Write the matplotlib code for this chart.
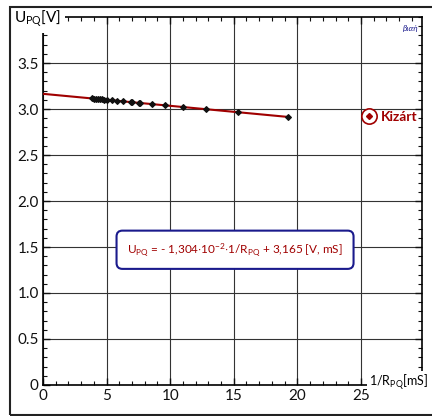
import matplotlib
matplotlib.use('Agg')
from matplotlib import pyplot as plt
from matplotlib.lines import Line2D
from matplotlib.patches import Rectangle
from matplotlib.legend_handler import HandlerTuple
from matplotlib.ticker import MultipleLocator

# measured points (1/R_PQ in mS, U_PQ in V)
inv_r = [3.83, 4.01, 4.17, 4.32, 4.48, 4.64, 4.80, 5.01, 5.42, 5.84, 6.31,
         6.89, 6.97, 7.57, 7.65, 8.54, 9.59, 10.98, 12.81, 15.35, 19.28]
u_pq = [3.115, 3.113, 3.111, 3.109, 3.107, 3.104, 3.102, 3.100, 3.094, 3.089, 3.083,
        3.075, 3.074, 3.066, 3.065, 3.054, 3.040, 3.022, 2.998, 2.965, 2.914]

# fitted line
slope = -1.304e-2
intercept = 3.165
fit_x = [0, 19.28]

x_ticks = [0, 5, 10, 15, 20, 25]
y_ticks = [0, 0.5, 1.0, 1.5, 2.0, 2.5, 3.0, 3.5]
y_tick_labels = ['0', '0.5', '1.0', '1.5', '2.0', '2.5', '3.0', '3.5']

plt.rcParams['font.family'] = ['Lato', 'DejaVu Sans']
plt.rcParams['mathtext.fontset'] = 'custom'
plt.rcParams['mathtext.rm'] = 'Lato'
plt.rcParams['mathtext.it'] = 'Lato:italic'

red = '#a00000'

fig = plt.figure(figsize=(4.32, 4.16), dpi=100)
ax = fig.add_axes([43 / 432, 1 - 385 / 416, (422 - 43) / 432, (385 - 17) / 416])

# outer frame
fig.patches.append(Rectangle((10 / 432, 1 - 415 / 416), 0.99, (415 - 7) / 416,
                             transform=fig.transFigure, fill=False,
                             edgecolor='#222222', linewidth=1.5))

ax.set_xlim(0, 29.8)
ax.set_ylim(0, 4.0)
ax.grid(True, color='#333333', linewidth=0.8)
ax.set_axisbelow(True)

ax.set_xticks(x_ticks)
ax.set_yticks(y_ticks)
ax.set_yticklabels(y_tick_labels)
ax.xaxis.set_minor_locator(MultipleLocator(1))
ax.yaxis.set_minor_locator(MultipleLocator(0.1))
ax.tick_params(which='both', direction='in', top=True, right=True,
               labelsize=11, colors='#111111', pad=3)
ax.tick_params(which='major', length=5, width=1)
ax.tick_params(which='minor', length=3, width=0.8)
for s in ax.spines.values():
    s.set_linewidth(1.2)

fit_y = [slope * v + intercept for v in fit_x]
ax.plot(fit_x, fit_y, color=red, linewidth=1.5, zorder=3)
ax.plot(inv_r, u_pq, linestyle='none', marker='D', markersize=2.8,
        color='#111111', zorder=4)
ax.plot(inv_r, u_pq, linestyle='none', marker='+', markersize=4.5,
        markeredgewidth=0.8, color='#111111', zorder=4)

# axis labels sitting on the spines
ax.text(-0.4, 3.98, r'U$_{\mathregular{PQ}}$[V]', ha='center', va='center',
        fontsize=11, bbox=dict(facecolor='white', edgecolor='none', pad=2.5),
        zorder=6, clip_on=False)
ax.text(25.6, 0.03, r'1/R$_{\mathregular{PQ}}$[mS]', ha='left', va='center',
        fontsize=9, bbox=dict(facecolor='white', edgecolor='none', pad=1),
        zorder=6, clip_on=False)

# equation box
ax.text(15.1, 1.47,
        r'U$_{\mathregular{PQ}}$ = - 1,304$\cdot$10$^{\mathregular{-2}}$$\cdot$1/R$_{\mathregular{PQ}}$ + 3,165 [V, mS]',
        ha='center', va='center', fontsize=8.5, color=red, zorder=6,
        bbox=dict(boxstyle='round,pad=0.9,rounding_size=0.5', facecolor='white',
                  edgecolor='#1a1a8c', linewidth=1.5))

ax.text(28.9, 3.87, 'βιαή', ha='center', va='center', fontsize=6,
        style='italic', color='#1a1a8c', zorder=6)

# legend for excluded points
h_circle = Line2D([], [], linestyle='none', marker='o', markersize=11,
                  markerfacecolor='white', markeredgecolor=red, markeredgewidth=1.2)
h_dot = Line2D([], [], linestyle='none', marker='D', markersize=3, color=red)
leg = ax.legend([(h_circle, h_dot)], ['Kizárt'],
                handler_map={tuple: HandlerTuple(ndivide=1, pad=0)},
                loc='center left', bbox_to_anchor=(0.843, 0.728), frameon=False,
                handlelength=1.0, handletextpad=0.35, borderpad=0.0,
                borderaxespad=0.0,
                prop={'weight': 'bold', 'size': 10})
for t in leg.get_texts():
    t.set_color(red)

plt.savefig('out.png', dpi=100)
